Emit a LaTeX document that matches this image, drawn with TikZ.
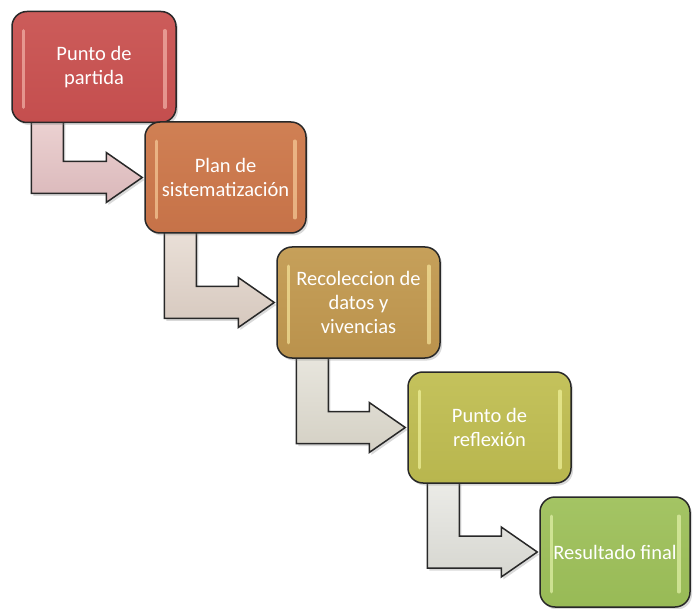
\documentclass[tikz,border=0pt]{standalone}
\usepackage{fontspec}
\setmainfont{Carlito}
\usetikzlibrary{calc,shadows,backgrounds}
\definecolor{cA}{RGB}{196,78,78}
\definecolor{cAt}{RGB}{204,92,90}
\definecolor{hA}{RGB}{246,186,176}
\definecolor{cB}{RGB}{198,114,72}
\definecolor{cBt}{RGB}{208,128,84}
\definecolor{hB}{RGB}{250,210,160}
\definecolor{cC}{RGB}{186,146,76}
\definecolor{cCt}{RGB}{198,160,90}
\definecolor{hC}{RGB}{250,234,160}
\definecolor{cD}{RGB}{184,182,78}
\definecolor{cDt}{RGB}{196,194,92}
\definecolor{hD}{RGB}{244,246,160}
\definecolor{cE}{RGB}{152,186,86}
\definecolor{cEt}{RGB}{164,196,100}
\definecolor{hE}{RGB}{232,246,176}
\definecolor{aA}{RGB}{218,184,186}
\definecolor{aAt}{RGB}{236,210,210}
\definecolor{aB}{RGB}{214,200,190}
\definecolor{aBt}{RGB}{234,224,216}
\definecolor{aC}{RGB}{212,208,196}
\definecolor{aCt}{RGB}{232,230,222}
\definecolor{aD}{RGB}{214,214,208}
\definecolor{aDt}{RGB}{236,236,232}
\definecolor{edge}{RGB}{40,40,40}
\tikzset{
  stepbox/.style={draw=edge, line width=1.5pt, rounded corners=15pt,
    minimum height=111pt, inner sep=1pt, text=white, align=center,
    font=\fontsize{20.5}{24}\selectfont,
    drop shadow={opacity=0.3,shadow xshift=2pt,shadow yshift=-2.5pt}},
  hilite/.style={line width=3.5pt, line cap=round, opacity=0.65},
  bentarrow/.style={draw=edge, line width=1.5pt, line join=miter,
    drop shadow={opacity=0.3,shadow xshift=2pt,shadow yshift=-2.5pt}}
}
\newcommand\boxhl[2]{%
  \draw[hilite,#2] ($(#1.north west)+(12,20)$) -- ($(#1.south west)+(12,-16)$);
  \draw[hilite,#2] ($(#1.north east)+(-12,20)$) -- ($(#1.south east)+(-12,-16)$);
}
\newcommand\benarr[4]{%
  \draw[bentarrow, top color=#4, bottom color=#3]
    let \p1=(#1.south west), \p2=(#2.west) in
    (\x1+20pt,\y1+4pt) -- (\x1+20pt,\y2-16pt) -- (\x2-38pt,\y2-16pt)
    -- (\x2-38pt,\y2-25pt) -- (\x2-2pt,\y2) -- (\x2-38pt,\y2+25pt)
    -- (\x2-38pt,\y2+16pt) -- (\x1+52pt,\y2+16pt) -- (\x1+52pt,\y1+4pt) -- cycle;
}
\begin{document}
\begin{tikzpicture}[x=1pt,y=-1pt]
\useasboundingbox (0,0) rectangle (693,609);
\node[stepbox, minimum width=164pt, top color=cAt, bottom color=cA] (b1) at (94,67) {Punto de\\partida};
\node[stepbox, minimum width=161pt, top color=cBt, bottom color=cB] (b2) at (225.5,177.5) {Plan de\\sistematización};
\node[stepbox, minimum width=163pt, top color=cCt, bottom color=cC] (b3) at (358.5,302.5) {Recoleccion de\\datos y\\vivencias};
\node[stepbox, minimum width=163pt, top color=cDt, bottom color=cD] (b4) at (489.5,427.5) {Punto de\\reflexión};
\node[stepbox, minimum width=150pt, minimum height=110pt, top color=cEt, bottom color=cE] (b5) at (615,552) {Resultado final};
\boxhl{b1}{hA}
\boxhl{b2}{hB}
\boxhl{b3}{hC}
\boxhl{b4}{hD}
\boxhl{b5}{hE}
\begin{scope}[on background layer]
\benarr{b1}{b2}{aA}{aAt}
\benarr{b2}{b3}{aB}{aBt}
\benarr{b3}{b4}{aC}{aCt}
\benarr{b4}{b5}{aD}{aDt}
\end{scope}
\end{tikzpicture}
\end{document}
